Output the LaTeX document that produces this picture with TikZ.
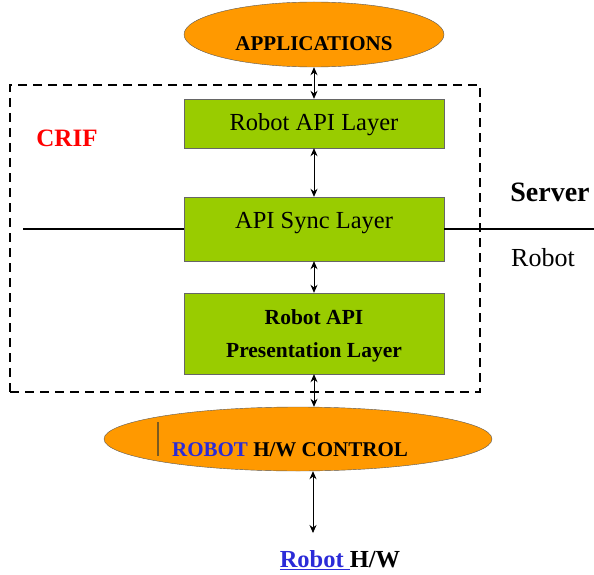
\documentclass[tikz,border=0pt]{standalone}
\usepackage{fontspec}
\setmainfont{Liberation Serif}
\usetikzlibrary{shapes.geometric, arrows.meta, positioning}
\definecolor{ovalorange}{HTML}{FF9900}
\definecolor{layergreen}{HTML}{99CC00}
\definecolor{robotblue}{HTML}{2B2BD8}
\definecolor{barbrown}{HTML}{7A5A20}
\tikzset{
  layerbox/.style={draw=black!60, fill=layergreen, minimum width=260pt, inner sep=0pt},
  oval/.style={ellipse, draw=black!65, fill=ovalorange, inner sep=0pt},
  frame/.style={draw, line width=2pt, dash pattern=on 9pt off 6pt, inner sep=0pt},
  link/.style={line width=0.8pt, {Stealth[length=8pt,width=7pt]}-{Stealth[length=8pt,width=7pt]}},
  divider/.style={line width=2.8pt}
}
\newcommand{\fsz}[2]{\fontsize{#1}{#2}\selectfont}

\begin{document}
\begin{tikzpicture}[x=1pt, y=-1pt]
  \useasboundingbox (0,0) rectangle (594,575);
  % crif frame
  \node[frame, minimum width=470pt, minimum height=307pt] (crif) at (245,238.5) {};
  \node[font=\bfseries\fsz{25}{30}, text=red] (crifname) at (67,138) {CRIF};
  % ovals
  \node[oval, minimum width=260pt, minimum height=65pt,
    label={[yshift=-9pt, font=\bfseries\fsz{21}{25}]center:APPLICATIONS}] (app) at (314,34.5) {};
  \node[oval, minimum width=388pt, minimum height=64pt,
    label={[xshift=-8pt, yshift=-11pt, font=\bfseries\fsz{21}{25}]center:{\textcolor{robotblue}{ROBOT} H/W CONTROL}}] (hw) at (298,439) {};
  \draw[barbrown, line width=1.5pt] (158,422) -- (158,456);
  % layers
  \node[layerbox, minimum height=49pt,
    label={[yshift=-1.5pt, font=\fsz{24.5}{29}]center:Robot API Layer}] (apilayer) at (314,123.5) {};
  \node[layerbox, minimum height=64pt,
    label={[yshift=6pt, font=\fsz{24.5}{29}]center:API Sync Layer}] (sync) at (314,229) {};
  \node[layerbox, minimum height=81pt,
    label={[yshift=-2pt, align=center, font=\bfseries\fsz{21.5}{33}]center:{Robot API\\Presentation Layer}}] (pres) at (314,333.5) {};
  % server / robot split
  \coordinate (divL) at (23,229);
  \coordinate (divR) at (594,229);
  \draw[divider] (divL) -- (sync.west);
  \draw[divider] (sync.east) -- (divR);
  \node[font=\bfseries\fsz{28}{33}] (server) at (550,192) {Server};
  \node[font=\fsz{26}{31}] (robot) at (543,258) {Robot};
  % links
  \draw[link] (app.south) -- (apilayer.north);
  \draw[link] (apilayer.south) -- (sync.north);
  \draw[link] (sync.south) -- (pres.north);
  \draw[link] (pres.south) -- (pres.south |- hw.north);
  \coordinate (hwend) at (313,533);
  \draw[link] (hw.south -| hwend) -- (hwend);
  \node[font=\bfseries\fsz{24.5}{29}] (robothw) at (340,560)
    {\textcolor{robotblue}{\underline{Robot\ }}H/W};
\end{tikzpicture}
\end{document}
